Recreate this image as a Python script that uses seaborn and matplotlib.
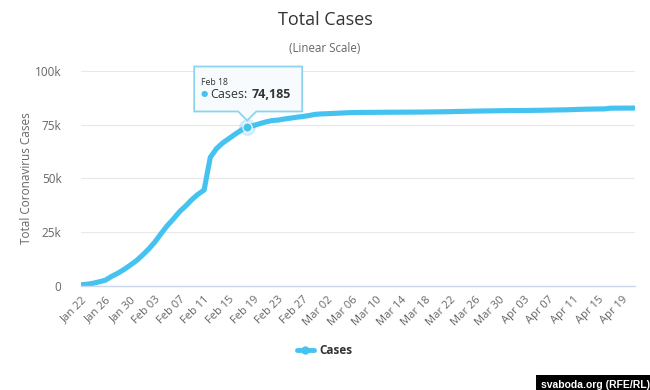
import numpy as np
import pandas as pd
import seaborn as sns
import matplotlib.pyplot as plt
import matplotlib.transforms as mtransforms
from matplotlib.patches import Polygon
from matplotlib.lines import Line2D

# total cases, one value per day from Jan 22
start_date = "2020-01-22"
cases = [
    571, 830, 1287, 1975, 2744, 4515, 5974, 7711, 9692, 11791,
    14380, 17205, 20438, 24324, 28018, 31161, 34546, 37198, 40171, 42638,
    44653, 59804, 63851, 66492, 68500, 70548, 72436, 74185, 74576, 75465,
    76288, 76936, 77150, 77658, 78064, 78497, 78824, 79251, 79824,
    80026, 80151, 80270, 80409, 80552, 80651, 80695, 80735, 80754, 80778,
    80793, 80813, 80824, 80844, 80860, 80881, 80894, 80928, 80967, 81008,
    81054, 81093, 81171, 81218, 81285, 81340, 81394, 81439, 81470, 81518,
    81554,
    81589, 81620, 81639, 81669, 81708, 81740, 81802, 81865, 81907, 81953,
    82052, 82160, 82249, 82295, 82341, 82367, 82692, 82719, 82735, 82747,
    82758,
]
y_ticks = [0, 25000, 50000, 75000, 100000]
y_tick_labels = ["0", "25k", "50k", "75k", "100k"]
tick_step = 4
highlight_label = "Feb 18"

dates = pd.date_range(start_date, periods=len(cases), freq="D")
df = pd.DataFrame({"day": np.arange(len(cases)), "Cases": cases,
                   "label": dates.strftime("%b %d")})

sns.set_style("white")
plt.rcParams["font.family"] = ["Open Sans", "DejaVu Sans"]

line_color = "#45c3f0"
grey = "#666666"

fig = plt.figure(figsize=(6.5, 3.9), dpi=100)
ax = fig.add_axes([81 / 650, 1 - 286 / 390, (635 - 81) / 650, (286 - 71) / 390])

sns.lineplot(data=df, x="day", y="Cases", ax=ax, color=line_color,
             linewidth=3.7, solid_capstyle="round", legend=False)

ax.set_xlim(0, len(cases) - 1)
ax.set_ylim(0, 100000)
ax.set_yticks(y_ticks)
ax.set_yticklabels(y_tick_labels)
ax.set_xticks(df["day"][::tick_step])
ax.set_xticklabels(df["label"][::tick_step], rotation=45, ha="right",
                   rotation_mode="anchor")
ax.tick_params(axis="x", length=0, pad=6, labelsize=8, labelcolor=grey)
ax.tick_params(axis="y", length=0, pad=14, labelsize=8.5, labelcolor=grey)
ax.grid(axis="y", color="#e8e8e8", linewidth=0.8)
ax.set_axisbelow(True)
for side in ["top", "right", "left"]:
    ax.spines[side].set_visible(False)
ax.spines["bottom"].set_color("#ccd6eb")
ax.spines["bottom"].set_linewidth(1)
ax.set_xlabel("")
ax.set_ylabel("Total Coronavirus Cases", fontsize=8.5, color=grey)
ax.yaxis.set_label_coords(-0.087, 0.5)

fig.text(0.5, 1 - 20 / 390, "Total Cases", ha="center", va="center",
         fontsize=13, color="#333333")
fig.text(0.5, 1 - 48 / 390, "(Linear Scale)", ha="center", va="center",
         fontsize=8.3, color=grey)

# tooltip on the highlighted day
hl = df[df["label"] == highlight_label].iloc[0]
px, py = hl["day"], hl["Cases"]
ax.scatter([px], [py], s=150, color=line_color, alpha=0.25, zorder=4,
           linewidths=0)
ax.scatter([px], [py], s=45, color=line_color, edgecolor="white",
           linewidths=0.8, zorder=5)

trans = mtransforms.Affine2D() + mtransforms.ScaledTranslation(px, py, ax.transData)
callout = Polygon([(-53, 15), (-9, 15), (0, 6), (9, 15), (55, 15), (55, 60),
                   (-53, 60)], closed=True, transform=trans,
                  facecolor="#f8fbfd", edgecolor="#8dd3ee", linewidth=1.3,
                  zorder=6, clip_on=False)
ax.add_patch(callout)
ax.annotate(highlight_label, xy=(px, py), xytext=(-46, 44),
            textcoords="offset pixels", fontsize=6.2, color="#333333",
            va="center", ha="left", zorder=7)
ax.annotate("\u25cf", xy=(px, py), xytext=(-47, 32),
            textcoords="offset pixels", fontsize=6, color=line_color,
            va="center", ha="left", zorder=7)
t1 = ax.annotate("Cases:", xy=(px, py), xytext=(-37, 32),
                 textcoords="offset pixels", fontsize=9, color="#333333",
                 va="center", ha="left", zorder=7)
ax.annotate(f"{py:,}", xy=(1, 0.5), xycoords=t1, xytext=(4, 0),
            textcoords="offset pixels", fontsize=9, fontweight="bold",
            color="#333333", va="center", ha="left", zorder=7)

handle = Line2D([0], [0], color=line_color, linewidth=3.5, marker="o",
                markersize=5)
fig.legend([handle], ["Cases"], loc="center", bbox_to_anchor=(0.5, 1 - 351 / 390),
           frameon=False, handlelength=1.4, handletextpad=0.5,
           prop={"size": 8.5, "weight": "bold"}, labelcolor="#333333")

fig.text(1, 0, "svaboda.org (RFE/RL)", ha="right", va="bottom", fontsize=7.5,
         fontweight="bold", color="white",
         family=["Liberation Sans Narrow", "Liberation Sans", "DejaVu Sans"],
         bbox=dict(facecolor="black", edgecolor="none", pad=3.5))

fig.savefig("out.png", dpi=100)
